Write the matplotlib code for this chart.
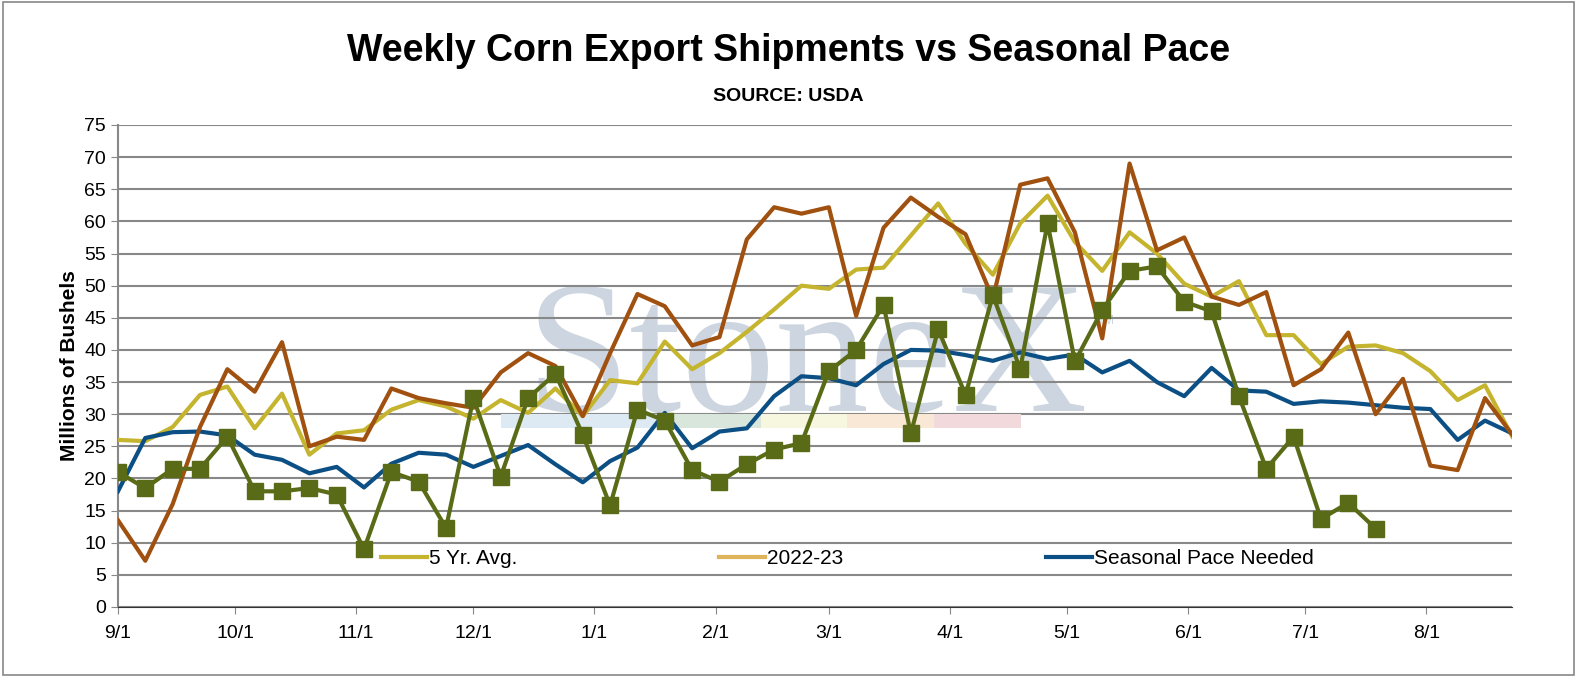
import matplotlib
matplotlib.use("Agg")
import matplotlib.pyplot as plt
from matplotlib.lines import Line2D
import matplotlib.patches as mpatches
import datetime as dt

plt.rcParams['font.family'] = ['Liberation Sans', 'DejaVu Sans']

current = [21, 18.5, 21.5, 21.5, 26.5, 18, 18, 18.5, 17.5, 9, 21, 19.5, 12.3, 32.5, 20.3, 32.5,
           36.3, 26.8, 15.8, 30.7, 29, 21.3, 19.5, 22.2, 24.5, 25.5, 36.7, 40, 47, 27, 43.2, 33,
           48.5, 37, 59.7, 38.2, 46.2, 52.3, 53, 47.5, 46, 32.8, 21.5, 26.5, 13.7, 16.2, 12.2]
prev = [13.5, 7.2, 16, 28, 37, 33.5, 41.2, 25, 26.5, 26, 34, 32.5, 31.7, 31, 36.5, 39.5, 37.5,
        29.7, 39.5, 48.7, 46.8, 40.7, 42, 57.2, 62.2, 61.2, 62.2, 45.3, 59, 63.7, 60.7, 58, 48,
        65.7, 66.7, 58.3, 41.8, 69, 55.5, 57.5, 48.3, 47, 49, 34.5, 37, 42.7, 30, 35.5, 22, 21.3,
        32.5, 26.8]
avg5 = [26, 25.8, 28, 33, 34.3, 27.8, 33.2, 23.7, 27, 27.5, 30.7, 32.2, 31.2, 29.3, 32.2, 30.2,
        34, 29.7, 35.3, 34.8, 41.3, 37, 39.5, 42.8, 46.3, 50, 49.5, 52.5, 52.8, 57.8, 62.8, 56.5,
        51.7, 59.7, 64, 56.8, 52.3, 58.3, 55, 50.3, 48.3, 50.7, 42.3, 42.3, 37.8, 40.5, 40.7, 39.5,
        36.7, 32.2, 34.5, 26.5]
pace = [18, 26.3, 27.2, 27.3, 26.7, 23.7, 22.9, 20.8, 21.8, 18.6, 22.3, 24, 23.7, 21.8, 23.5, 25.2,
        22.2, 19.4, 22.7, 24.8, 30.2, 24.7, 27.3, 27.8, 32.8, 35.9, 35.6, 34.5, 37.8, 40, 39.9, 39.2,
        38.3, 39.6, 38.6, 39.3, 36.5, 38.3, 35, 32.8, 37.2, 33.7, 33.5, 31.6, 32, 31.8, 31.4, 31,
        30.8, 26, 29, 27]
month_labels = ["9/1", "10/1", "11/1", "12/1", "1/1", "2/1", "3/1", "4/1", "5/1", "6/1", "7/1", "8/1"]

start = dt.date(2023, 9, 1)
month_dates = [dt.date(2023, 9, 1), dt.date(2023, 10, 1), dt.date(2023, 11, 1), dt.date(2023, 12, 1),
               dt.date(2024, 1, 1), dt.date(2024, 2, 1), dt.date(2024, 3, 1), dt.date(2024, 4, 1),
               dt.date(2024, 5, 1), dt.date(2024, 6, 1), dt.date(2024, 7, 1), dt.date(2024, 8, 1)]
month_pos = [(d - start).days / 7.0 for d in month_dates]

fig = plt.figure(figsize=(15.77, 6.77), dpi=100)
ax = fig.add_axes([0.0748, 0.1034, 0.8842, 0.712])
fig.patches.append(mpatches.Rectangle((0.002, 0.003), 0.996, 0.994, transform=fig.transFigure,
                                      fill=False, edgecolor="#888888", lw=1.2))

# watermark
ax.text(25.2, 37.5, "StoneX", fontsize=135, family="Liberation Serif", color="#cdd6e0",
        ha="center", va="center", zorder=0.5)
ax.text(35.8, 44, "TM", fontsize=9, color="#cdd6e0", zorder=0.5)
stripe_cols = ["#dde9f3", "#dde9f3", "#d8e6dc", "#f7f6de", "#f9e8d6", "#f2d9db"]
for k, c in enumerate(stripe_cols):
    ax.add_patch(mpatches.Rectangle((14 + k * 3.17, 27.8), 3.17, 2.2, color=c, zorder=0.6, lw=0))

x_all = list(range(52))
ax.plot(x_all, avg5, color="#C5B42E", lw=3, zorder=3)
ax.plot(x_all, prev, color="#A0500F", lw=3, zorder=4)
ax.plot(x_all, pace, color="#0B4F84", lw=3, zorder=3)
ax.plot(range(len(current)), current, color="#5A6B17", lw=3, marker="s", ms=11, zorder=5)

ax.set_xlim(0, 51)
ax.set_ylim(0, 75)
ax.set_yticks(range(0, 76, 5))
ax.set_xticks(month_pos)
ax.set_xticklabels(month_labels)
ax.tick_params(axis="both", labelsize=14, length=5, color="#888888")
ax.tick_params(axis="x", pad=8)
ax.grid(axis="y", color="#888888", lw=1.5)
ax.set_axisbelow(True)
for s in ["top", "right"]:
    ax.spines[s].set_visible(False)
ax.spines["left"].set_color("#888888")
ax.spines["bottom"].set_color("#333333")
ax.spines["left"].set_linewidth(1.5)
ax.set_ylabel("Millions of Bushels", fontsize=15, fontweight="bold")

handles = [Line2D([], [], color="#C5B42E", lw=3), Line2D([], [], color="#DDB45A", lw=3),
           Line2D([], [], color="#0B4F84", lw=3)]
ax.legend(handles, ["5 Yr. Avg.", "2022-23", "Seasonal Pace Needed"], loc="center",
          bbox_to_anchor=(0.523, 0.1), ncol=3, frameon=False, fontsize=15,
          columnspacing=9.7, handlelength=2.2, handletextpad=0.1)

fig.text(0.5, 0.925, "Weekly Corn Export Shipments vs Seasonal Pace", ha="center", va="center",
         fontsize=27, fontweight="bold")
fig.text(0.5, 0.857, "SOURCE: USDA", ha="center", va="center", fontsize=14, fontweight="bold")

fig.savefig("out.png", dpi=100)
